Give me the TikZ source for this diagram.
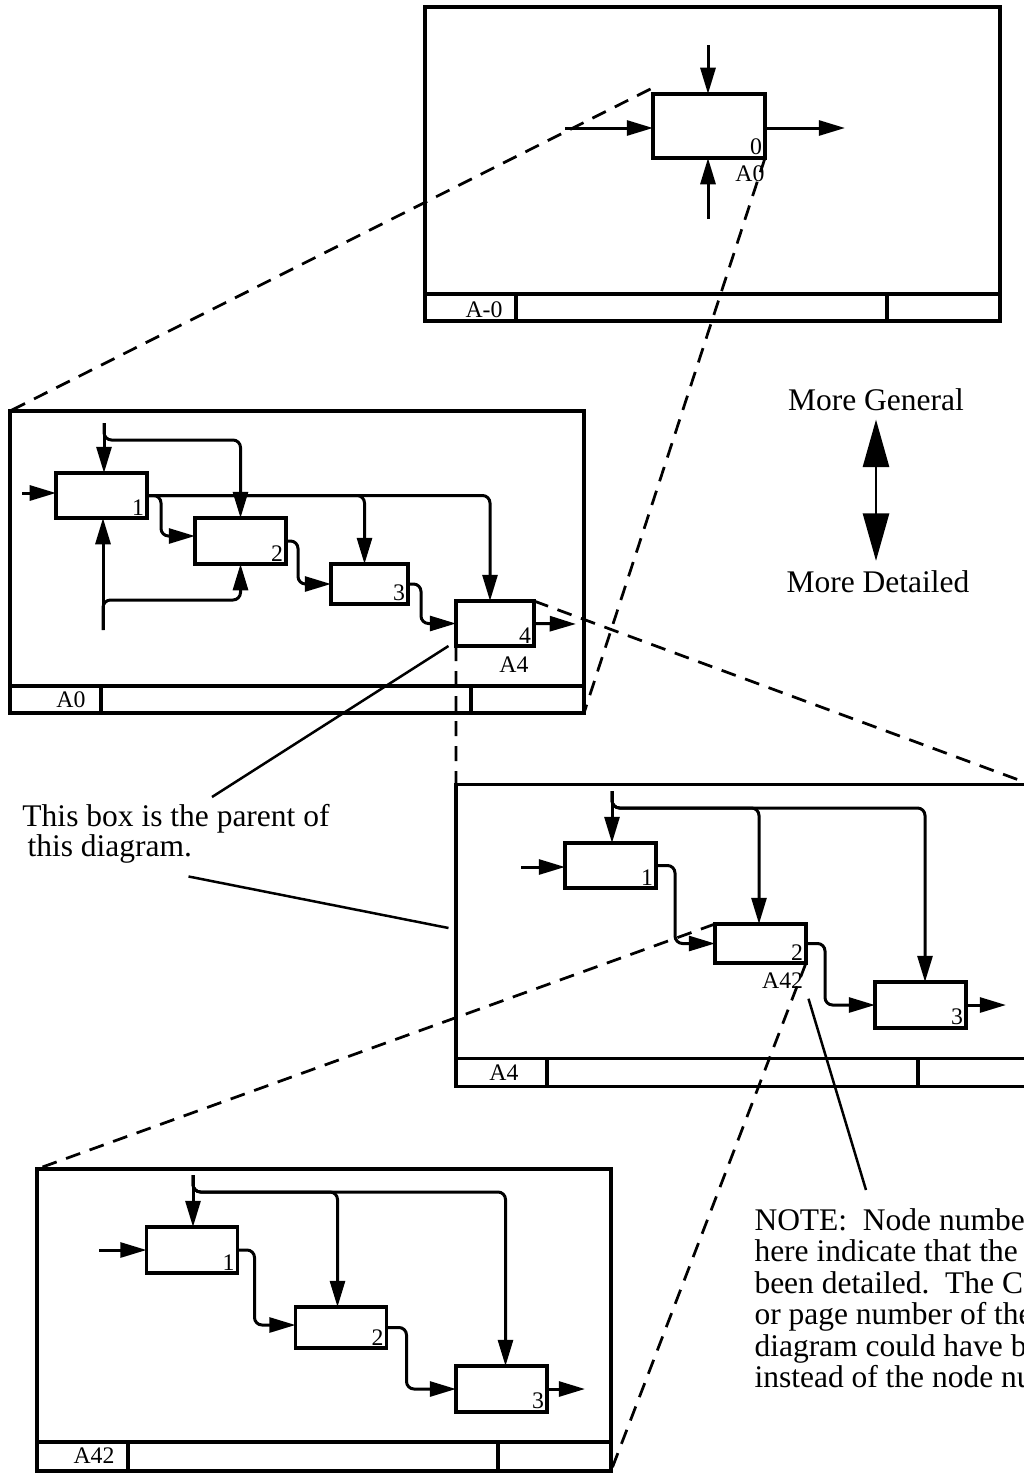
\documentclass[tikz,border=0pt]{standalone}
\usepackage{fontspec}
\setmainfont{Liberation Serif}
\usetikzlibrary{arrows.meta,positioning}

\begin{document}
\begin{tikzpicture}[x=0.4pt,y=-0.4pt,
    frame/.style={draw,line width=1.4pt,inner sep=0pt,outer sep=0pt,minimum width=229.6pt,minimum height=120.8pt},
    box/.style={draw,line width=1.3pt,inner sep=0pt,outer sep=0pt,minimum width=36.4pt,minimum height=18pt},
    rule/.style={line width=1.3pt},
    flow/.style={-{Triangle[length=10.5pt,width=6pt]},line width=1.2pt,rounded corners=3pt},
    link/.style={line width=1.1pt,dash pattern=on 6pt off 4pt},
    lead/.style={line width=1pt},
    num/.style={font=\fontsize{9.5}{11}\selectfont,inner sep=1pt},
    tag/.style={font=\fontsize{9.5}{11}\selectfont,inner sep=0pt},
    txt/.style={font=\fontsize{12.6}{12.6}\selectfont,inner sep=0pt},
    bigarrow/.style={{Triangle[length=19pt,width=10.4pt]}-{Triangle[length=19pt,width=10.4pt]},line width=1.1pt}]
    \useasboundingbox (0,0) rectangle (1024,1473);
    \clip (0,0) rectangle (1024,1473);

    % the four diagram sheets
    \node[frame,minimum width=230pt,minimum height=125.6pt] (fTop) at (712.5,164) {};
    \node[frame] (fA0) at (297,562) {};
    \node[frame,minimum width=230pt] (fA4) at (743.5,935.5) {};
    \node[frame] (fA42) at (324,1320) {};

    \draw[rule] ([yshift=10.8pt]fTop.south west) -- ([yshift=10.8pt]fTop.south east)
        ([xshift=36.4pt]fTop.south west) -- ([xshift=36.4pt,yshift=10.8pt]fTop.south west)
        ([xshift=-45.2pt]fTop.south east) -- ([xshift=-45.2pt,yshift=10.8pt]fTop.south east);
    \draw[rule] ([yshift=10.8pt]fA0.south west) -- ([yshift=10.8pt]fA0.south east)
        ([xshift=36.4pt]fA0.south west) -- ([xshift=36.4pt,yshift=10.8pt]fA0.south west)
        ([xshift=-45.2pt]fA0.south east) -- ([xshift=-45.2pt,yshift=10.8pt]fA0.south east);
    \draw[rule] ([yshift=11.2pt]fA4.south west) -- ([yshift=11.2pt]fA4.south east)
        ([xshift=36.4pt]fA4.south west) -- ([xshift=36.4pt,yshift=11.2pt]fA4.south west)
        ([xshift=-45.2pt]fA4.south east) -- ([xshift=-45.2pt,yshift=11.2pt]fA4.south east);
    \draw[rule] ([yshift=11.6pt]fA42.south west) -- ([yshift=11.6pt]fA42.south east)
        ([xshift=36.4pt]fA42.south west) -- ([xshift=36.4pt,yshift=11.6pt]fA42.south west)
        ([xshift=-45.2pt]fA42.south east) -- ([xshift=-45.2pt,yshift=11.6pt]fA42.south east);

    \node[tag,anchor=base east] (tTop) at (503,317) {A-0};
    \node[tag,anchor=base east] (tA0) at (86,707) {A0};
    \node[tag,anchor=base east] (tA4) at (519,1080) {A4};
    \node[tag,anchor=base east] (tA42) at (115,1463) {A42};

    % A-0
    \node[box,minimum width=44.8pt,minimum height=25.6pt] (b0) at (709,126) {};
    \node[num,above left=0pt of b0.south east] (b0n) {0};
    \node[num,below left=2pt and -1pt of b0.south east] (b0r) {A0};
    \coordinate (b0c) at (708,45);
    \coordinate (b0i) at (565,128);
    \coordinate (b0o) at (845,128);
    \coordinate (b0m) at (708,219);
    \draw[flow] (b0c) -- (b0c |- b0.north);
    \draw[flow] (b0i) -- (b0i -| b0.west);
    \draw[flow] (b0.east |- b0o) -- (b0o);
    \draw[flow] (b0m) -- (b0m |- b0.south);

    % A0
    \node[box] (p1) at (101.5,495.5) {};
    \node[box,minimum height=18.4pt] (p2) at (240.5,541) {};
    \node[box,minimum width=30.8pt,minimum height=16pt] (p3) at (369.5,584) {};
    \node[box,minimum width=31.2pt] (p4) at (495,623.5) {};
    \node[num,above left=0pt of p1.south east] (p1n) {1};
    \node[num,above left=0pt of p2.south east] (p2n) {2};
    \node[num,above left=0pt of p3.south east] (p3n) {3};
    \node[num,above left=0pt of p4.south east] (p4n) {4};
    \node[num,below left=3pt and 1pt of p4.south east] (p4r) {A4};
    \coordinate (p1i) at (22,493);
    \coordinate (p1c) at (104,423);
    \coordinate (p1m) at (103,630);
    \coordinate (p4o) at (576,624);
    \draw[flow] (p1i) -- (p1i -| p1.west);
    \draw[flow] (p1c) -- (p1c |- p1.north);
    \draw[flow] (p1c) -- ++(0,17) -| (p2.north);
    \draw[flow] (p1m) -- (p1m |- p1.south);
    \draw[flow] (p1m) -- ++(0,-30) -| (p2.south);
    \draw[flow] (p1.east) -| ([xshift=-2pt]p4.north);
    \draw[flow] (p1.east) -| ([xshift=-2pt]p3.north);
    \draw[flow] (p1.east) -- ++(14,0) |- ([yshift=2pt]p2.west);
    \draw[flow] (p2.east) -- ++(12,0) |- (p3.west);
    \draw[flow] (p3.east) -- ++(13,0) |- (p4.west);
    \draw[flow] (p4.east) -- (p4o);

    % A4
    \node[box] (q1) at (610.5,865.5) {};
    \node[box,minimum height=15.6pt] (q2) at (760.5,943.5) {};
    \node[box,minimum height=18.4pt] (q3) at (920.5,1005) {};
    \node[num,above left=0pt of q1.south east] (q1n) {1};
    \node[num,above left=0pt of q2.south east] (q2n) {2};
    \node[num,above left=0pt of q3.south east] (q3n) {3};
    \node[num,below left=2.6pt and 0pt of q2.south east] (q2r) {A42};
    \coordinate (q1i) at (521,867);
    \coordinate (q1c) at (612,791);
    \coordinate (q3o) at (1006,1005);
    \draw[flow] (q1i) -- (q1i -| q1.west);
    \draw[flow] (q1c) -- (q1c |- q1.north);
    \draw[flow] (q1c) -- ++(0,17) -| ([xshift=-0.6pt]q2.north);
    \draw[flow] (q1c) -- ++(0,17) -| ([xshift=1.8pt]q3.north);
    \draw[flow] (q1.east) -- ++(19,0) |- (q2.west);
    \draw[flow] (q2.east) -- ++(19,0) |- (q3.west);
    \draw[flow] (q3.east) -- (q3o);

    % A42
    \node[box,minimum height=18.4pt] (r1) at (192,1250) {};
    \node[box,minimum height=16.4pt] (r2) at (341,1327.5) {};
    \node[box,minimum height=18.4pt] (r3) at (501.5,1389) {};
    \node[num,above left=0pt of r1.south east] (r1n) {1};
    \node[num,above left=0pt of r2.south east] (r2n) {2};
    \node[num,above left=0pt of r3.south east] (r3n) {3};
    \coordinate (r1i) at (99,1250);
    \coordinate (r1c) at (193,1175);
    \coordinate (r3o) at (585,1389);
    \draw[flow] (r1i) -- (r1i -| r1.west);
    \draw[flow] (r1c) -- (r1c |- r1.north);
    \draw[flow] (r1c) -- ++(0,17) -| ([xshift=-1.4pt]r2.north);
    \draw[flow] (r1c) -- ++(0,17) -| ([xshift=1.6pt]r3.north);
    \draw[flow] (r1.east) -- ++(17,0) |- ([yshift=1pt]r2.west);
    \draw[flow] (r2.east) -- ++(20,0) |- (r3.west);
    \draw[flow] (r3.east) -- (r3o);

    % parent box to child sheet
    \draw[link] ([shift={(-1pt,2pt)}]b0.north west) -- (fA0.north west);
    \draw[link] (b0.south east) -- (fA0.south east);
    \draw[link] (p4.north east) -- (fA4.north east);
    \draw[link] (p4.south west) -- (fA4.north west);
    \draw[link] (q2.north west) -- (fA42.north west);
    \draw[link] (q2.south east) -- (fA42.south east);

    % notes
    \node[txt,anchor=base] (gen) at (876,410) {More General};
    \node[txt,anchor=base] (det) at (878,592) {More Detailed};
    \draw[bigarrow] ([yshift=-3.5pt]gen.south) -- ([yshift=3.5pt]gen.south |- det.north);

    \node[txt,align=left,anchor=north west,font=\fontsize{12.6}{12}\selectfont] (parent) at (22,804)
        {This box is the parent of\\\hspace*{2pt}this diagram.};
    \coordinate (k1) at (212,797);
    \draw[lead] ([xshift=-3pt]p4.south west) -- (k1);
    \draw[lead] ([xshift=5pt,yshift=-5pt]parent.south) -- ([xshift=-3pt,yshift=3pt]fA4.west);

    \node[txt,align=left,anchor=north west] (note) at (754,1208)
        {NOTE:\ \ Node numbe\\here indicate that the\\been detailed.\ \ The C\\or page number of the\\diagram could have b\\instead of the node nu};
    \coordinate (k3) at (866,1190);
    \draw[lead] ([xshift=1pt,yshift=-3pt]q2r.south east) -- (k3);
\end{tikzpicture}
\end{document}
